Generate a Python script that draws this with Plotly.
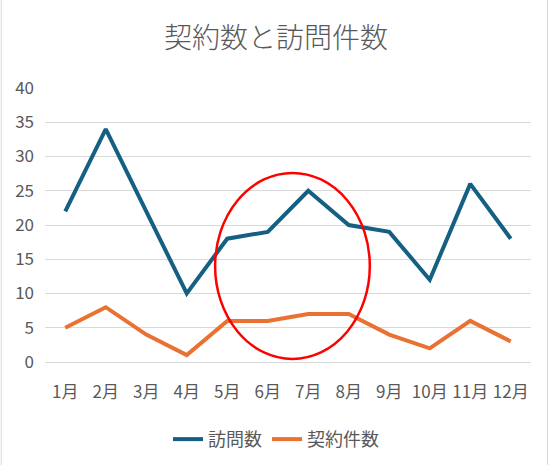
import plotly.graph_objects as go

months = ["1月", "2月", "3月", "4月", "5月", "6月", "7月", "8月", "9月", "10月", "11月", "12月"]
visits = [22, 34, 22, 10, 18, 19, 25, 20, 19, 12, 26, 18]
contracts = [5, 8, 4, 1, 6, 6, 7, 7, 4, 2, 6, 3]

font_family = "Noto Sans CJK JP, Liberation Sans, sans-serif"
text_color = "#595959"

fig = go.Figure()
fig.add_trace(go.Scatter(x=months, y=visits, mode="lines", name="訪問数",
                         line=dict(color="#156082", width=4)))
fig.add_trace(go.Scatter(x=months, y=contracts, mode="lines", name="契約件数",
                         line=dict(color="#E97132", width=4)))

# highlight ellipse
fig.add_shape(type="circle", xref="x", yref="y", x0=3.70, x1=7.52, y0=0.44, y1=27.6,
              line=dict(color="#FF0000", width=2.5))
# chart border
fig.add_shape(type="rect", xref="paper", yref="paper", x0=-0.090, x1=1.034, y0=-0.40, y1=1.35,
              line=dict(color="#D9D9D9", width=1))

fig.update_layout(
    width=552, height=465,
    margin=dict(l=45, r=21, t=88, b=103),
    paper_bgcolor="white", plot_bgcolor="white",
    font=dict(family=font_family, color=text_color, size=17),
    title=dict(text="契約数と訪問件数", x=0.5, xanchor="center", y=0.918, yanchor="middle",
               font=dict(size=28, color=text_color, weight=300)),
    showlegend=True,
    legend=dict(orientation="h", x=0.5, xanchor="center", xref="container",
                y=0.055, yanchor="middle", yref="container",
                font=dict(size=18, color=text_color)),
    xaxis=dict(type="category", range=[-0.5, 11.5], showgrid=False, showline=False,
               ticks="", ticklabelstandoff=18, tickfont=dict(size=17), automargin=False),
    yaxis=dict(range=[0, 40], dtick=5, showgrid=True, gridcolor="#D9D9D9", gridwidth=1,
               zeroline=True, zerolinecolor="#D9D9D9", zerolinewidth=1,
               showline=False, ticks="", ticklabelstandoff=10, tickfont=dict(size=17),
               automargin=False),
)

fig.write_html("out.html")
